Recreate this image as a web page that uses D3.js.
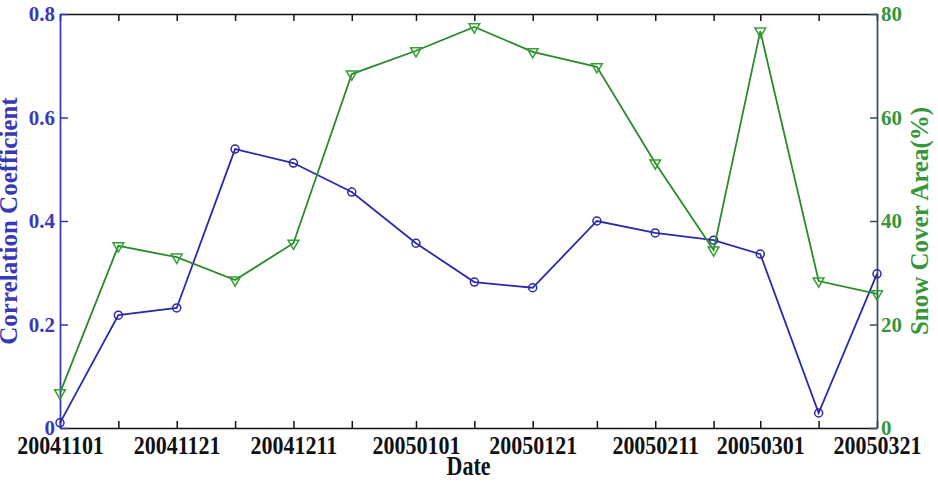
<!DOCTYPE html>
<html>
<head>
<meta charset="utf-8">
<script src="https://cdn.jsdelivr.net/npm/d3@7"></script>
<style>
  body { margin: 0; background: #fff; }
  svg { display: block; }
</style>
</head>
<body>
<div id="chart"></div>
<script>
// sampling dates (every ~10 days)
const dateStrings = [
	"20041101", "20041111", "20041121", "20041201", "20041211",
	"20041221", "20050101", "20050111", "20050121", "20050201",
	"20050211", "20050221", "20050301", "20050311", "20050321",
];
// left axis series
const correlation = [
	0.01, 0.218, 0.232, 0.539, 0.512, 0.456, 0.357, 0.282,
	0.271, 0.400, 0.377, 0.363, 0.336, 0.029, 0.298,
];
// right axis series
const snowCover = [
	6.8, 35.2, 33.0, 28.6, 35.7, 68.4, 72.9, 77.5,
	72.7, 69.8, 51.2, 34.4, 76.7, 28.4, 25.9,
];
const leftTicks = [0, 0.2, 0.4, 0.6, 0.8];
const rightTicks = [0, 20, 40, 60, 80];

const parseDate = d3.timeParse("%Y%m%d");
const formatDate = d3.timeFormat("%Y%m%d");
const dates = dateStrings.map(parseDate);

const width = 938;
const height = 486;
const margin = { top: 14, right: 61, bottom: 58, left: 60 };
const innerWidth = width - margin.left - margin.right;
const innerHeight = height - margin.top - margin.bottom;

const blue = "#2a2aa8";
const blueText = "#3939b8";
const green = "#2b8a2b";
const greenText = "#36963a";
const font = "'Liberation Serif', 'Times New Roman', serif";

const svg = d3.select("#chart")
	.append("svg")
	.attr("width", width)
	.attr("height", height);

const g = svg.append("g")
	.attr("transform", `translate(${margin.left},${margin.top})`);

const x = d3.scaleTime()
	.domain([dates[0], dates[dates.length - 1]])
	.range([0, innerWidth]);
const yLeft = d3.scaleLinear([0, 0.8], [innerHeight, 0]);
const yRight = d3.scaleLinear([0, 80], [innerHeight, 0]);

// bottom axis: tick at every date, label every other one
const xAxis = g.append("g")
	.attr("transform", `translate(0,${innerHeight})`)
	.call(d3.axisBottom(x)
		.tickValues(dates)
		.tickSizeInner(-7)
		.tickSizeOuter(0)
		.tickPadding(8)
		.tickFormat((d, i) => (i % 2 ? "" : formatDate(d))));
xAxis.selectAll("text")
	.attr("transform", "scale(1,1.1)")
	.style("font-family", font)
	.style("font-weight", "700")
	.style("font-size", "22px")
	.style("fill", "#111");

// top axis, ticks only
const topAxis = g.append("g")
	.call(d3.axisTop(x)
		.tickValues(dates)
		.tickSizeInner(-7)
		.tickSizeOuter(0)
		.tickFormat(""));

[xAxis, topAxis].forEach(a => {
	a.select(".domain").attr("stroke", "#111").attr("stroke-width", 1.7);
	a.selectAll(".tick line").attr("stroke", "#111").attr("stroke-width", 1.5);
});

// left axis (correlation)
const leftAxis = g.append("g")
	.call(d3.axisLeft(yLeft)
		.tickValues(leftTicks)
		.tickSizeInner(-8)
		.tickSizeOuter(0)
		.tickPadding(5)
		.tickFormat(d => (d === 0 ? "0" : d3.format(".1f")(d))));
leftAxis.select(".domain").attr("stroke", "#3535b8").attr("stroke-width", 1.7);
leftAxis.selectAll(".tick line").attr("stroke", "#3535b8").attr("stroke-width", 1.5);
leftAxis.selectAll("text")
	.style("font-family", font)
	.style("font-weight", "700")
	.style("font-size", "21px")
	.style("fill", blueText);

// right axis (snow cover)
const rightAxis = g.append("g")
	.attr("transform", `translate(${innerWidth},0)`)
	.call(d3.axisRight(yRight)
		.tickValues(rightTicks)
		.tickSizeInner(-7)
		.tickSizeOuter(0)
		.tickPadding(4));
rightAxis.select(".domain").attr("stroke", "#2f4f5f").attr("stroke-width", 1.7);
rightAxis.selectAll(".tick line").attr("stroke", "#2f4f5f").attr("stroke-width", 1.5);
rightAxis.selectAll("text")
	.style("font-family", font)
	.style("font-weight", "700")
	.style("font-size", "21px")
	.style("fill", greenText);

// correlation line + open circles
const corrData = dates.map((d, i) => ({ date: d, value: correlation[i] }));
g.append("path")
	.datum(corrData)
	.attr("fill", "none")
	.attr("stroke", blue)
	.attr("stroke-width", 1.8)
	.attr("d", d3.line().x(d => x(d.date)).y(d => yLeft(d.value)));
g.selectAll(".corr-pt")
	.data(corrData)
	.join("circle")
	.attr("class", "corr-pt")
	.attr("cx", d => x(d.date))
	.attr("cy", d => yLeft(d.value))
	.attr("r", 4)
	.attr("fill", "none")
	.attr("stroke", blue)
	.attr("stroke-width", 1.5);

// snow cover line + open down-triangles
const snowData = dates.map((d, i) => ({ date: d, value: snowCover[i] }));
g.append("path")
	.datum(snowData)
	.attr("fill", "none")
	.attr("stroke", green)
	.attr("stroke-width", 1.8)
	.attr("d", d3.line().x(d => x(d.date)).y(d => yRight(d.value)));
g.selectAll(".snow-pt")
	.data(snowData)
	.join("path")
	.attr("class", "snow-pt")
	.attr("d", d3.symbol(d3.symbolTriangle, 50))
	.attr("transform", d => `translate(${x(d.date)},${yRight(d.value)}) rotate(180)`)
	.attr("fill", "none")
	.attr("stroke", "#33a033")
	.attr("stroke-width", 1.5);

// axis titles
svg.append("text")
	.attr("transform", `translate(${margin.left + innerWidth / 2},475) scale(1,1.2)`)
	.attr("text-anchor", "middle")
	.style("font-family", font)
	.style("font-weight", "700")
	.style("font-size", "22px")
	.style("fill", "#111")
	.text("Date");

svg.append("text")
	.attr("transform", `translate(17,${margin.top + innerHeight / 2}) rotate(-90)`)
	.attr("text-anchor", "middle")
	.style("font-family", font)
	.style("font-weight", "700")
	.style("font-size", "25px")
	.style("fill", blueText)
	.text("Correlation Coefficient");

svg.append("text")
	.attr("transform", `translate(928,${margin.top + innerHeight / 2}) rotate(-90)`)
	.attr("text-anchor", "middle")
	.style("font-family", font)
	.style("font-weight", "700")
	.style("font-size", "25px")
	.style("fill", greenText)
	.text("Snow Cover Area(%)");
</script>
</body>
</html>
